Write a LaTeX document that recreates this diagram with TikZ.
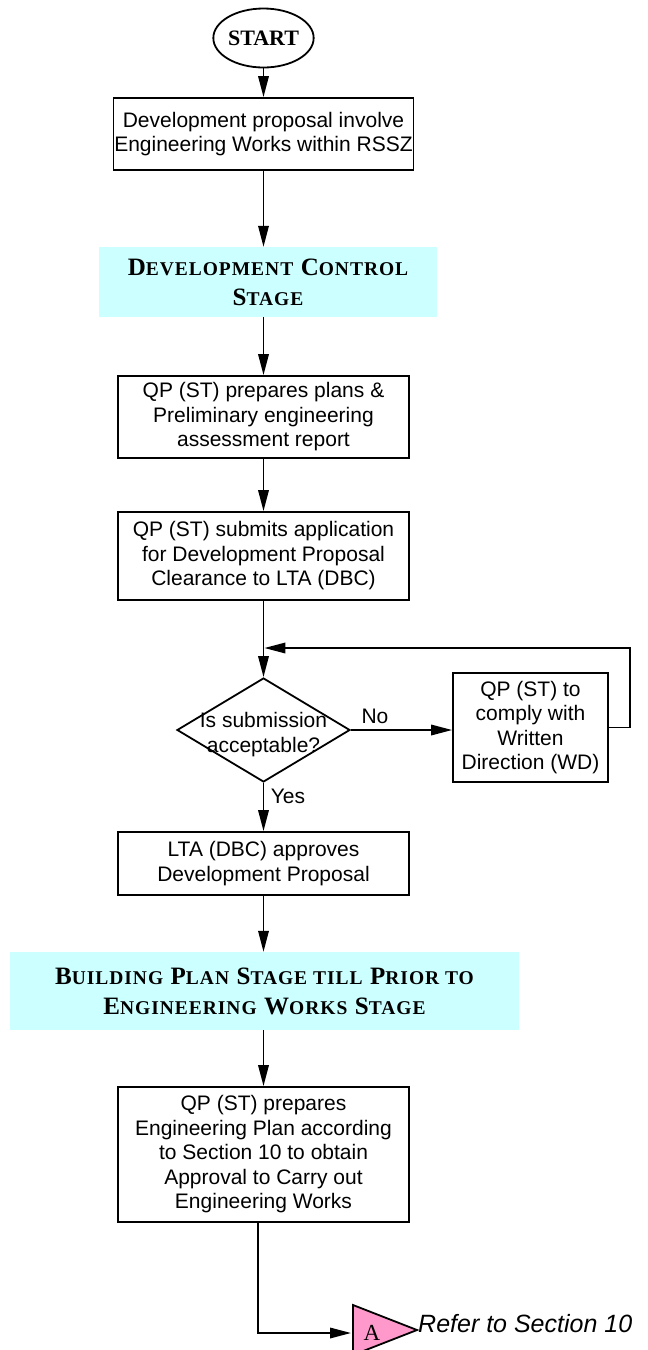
\documentclass[tikz,border=0pt]{standalone}
\usepackage{fontspec}
\setmainfont{Liberation Sans}
\newfontfamily\timesfont{Liberation Serif}
\usetikzlibrary{shapes.geometric,arrows.meta}

\definecolor{stagecyan}{RGB}{204,255,255}
\definecolor{connpink}{RGB}{255,153,204}

% capital + small capitals for the stage headings
\newcommand\capsc[2]{{\fontsize{25}{30}\selectfont #1}{\fontsize{19.5}{30}\selectfont #2}}

\tikzset{
  x=1pt, y=-1pt,
  line/.style={line width=1.8pt},
  arr/.style={line, -{Triangle[length=21pt,width=10.5pt]}},
  box/.style={draw, line, align=center, inner xsep=0pt, inner ysep=2pt,
    font=\fontsize{21}{24.5}\selectfont},
  stagebox/.style={fill=stagecyan, draw=none, align=center, inner sep=0pt,
    font=\timesfont\bfseries\addfontfeature{LetterSpace=5}\fontsize{25}{30}\selectfont},
  lbl/.style={font=\fontsize{21}{24}\selectfont, inner sep=0pt},
}

\begin{document}
\begin{tikzpicture}
\useasboundingbox (0,0) rectangle (648,1350);

% terminal
\node[draw, line, ellipse, minimum width=93pt, minimum height=59pt, inner sep=0pt,
      font=\timesfont\bfseries\fontsize{22}{22}\selectfont] (start) at (263.5,38) {START};

\node[box, minimum width=300pt, minimum height=72pt] (box1) at (263.5,134)
  {Development proposal involve\\Engineering Works within RSSZ};

\node[stagebox, minimum width=338pt, minimum height=70pt] (stage1) at (268,282)
  {\capsc{D}{EVELOPMENT} \capsc{C}{ONTROL}\\\capsc{S}{TAGE}};

\node[box, minimum width=291pt, minimum height=82pt] (box2) at (263.5,417)
  {QP (ST) prepares plans \&\\Preliminary engineering\\assessment report};

\node[box, minimum width=291pt, minimum height=88pt] (box3) at (263.5,556)
  {QP (ST) submits application\\for Development Proposal\\Clearance to LTA (DBC)};

% decision
\node[draw, line, diamond, minimum width=173pt, minimum height=104pt, inner sep=0pt] (dec) at (263.5,730) {};
\node[lbl, align=center, font=\fontsize{21}{25}\selectfont] (dectext) at (263.5,735) {Is submission\\acceptable?};

\node[box, minimum width=155pt, minimum height=109pt] (wd) at (530.5,727.5)
  {QP (ST) to\\comply with\\Written\\Direction (WD)};

\node[box, minimum width=291pt, minimum height=63pt] (box4) at (263.5,863.5)
  {LTA (DBC) approves\\Development Proposal};

\node[stagebox, minimum width=509pt, minimum height=78pt] (stage2) at (264.5,991)
  {\capsc{B}{UILDING} \capsc{P}{LAN} \capsc{S}{TAGE TILL} \capsc{P}{RIOR TO}\\
   \capsc{E}{NGINEERING} \capsc{W}{ORKS} \capsc{S}{TAGE}};

\node[box, minimum width=291pt, minimum height=135pt] (box5) at (263.5,1154.5)
  {QP (ST) prepares\\Engineering Plan according\\to Section 10 to obtain\\Approval to Carry out\\Engineering Works};

% off-page connector
\draw[line, fill=connpink] (353,1305) -- (417,1330) -- (353,1355) -- cycle;
\coordinate (tri) at (353,1333);
\node[font=\timesfont\fontsize{23}{23}\selectfont, inner sep=0pt] (alabel) at (372,1333) {A};
\node[anchor=base west, font=\itshape\fontsize{25}{28}\selectfont, inner sep=0pt] (ref) at (418,1332) {Refer to Section 10};

% connectors
\draw[arr] (start.south) -- (box1.north);
\draw[arr] (box1.south) -- (box1.south |- stage1.north);
\draw[arr] (box2.north |- stage1.south) -- (box2.north);
\draw[arr] (box2.south) -- (box3.north);
\draw[arr] (box3.south) -- (dec.north);
\draw[arr] (dec.east) -- (dec.east -| wd.west);
\coordinate (loop) at (630,648);
\draw[arr, shorten >=0.9pt] (wd.east) -| (loop) -- (loop -| dec.north);
\draw[arr] (dec.south) -- (box4.north);
\draw[arr] (box4.south) -- (box4.south |- stage2.north);
\draw[arr] (box4.south |- stage2.south) -- (box5.north);
\draw[arr] ([xshift=-5.5pt]box5.south) |- ([xshift=-2pt]tri);

% branch labels
\node[lbl] (no) at (375,716) {No};
\node[lbl] (yes) at (288,796) {Yes};
\end{tikzpicture}
\end{document}
